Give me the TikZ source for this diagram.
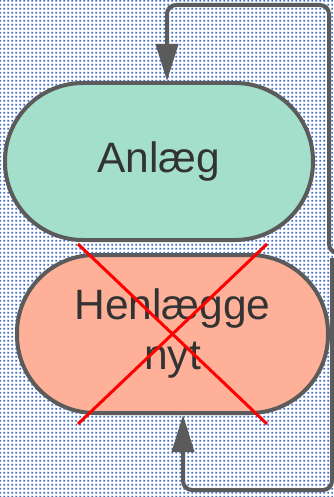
\documentclass[tikz,border=0pt]{standalone}
\usepackage{fontspec}
\setmainfont{Liberation Sans}
\usetikzlibrary{patterns.meta,arrows.meta}
\definecolor{dotblue}{HTML}{3F6CC6}
\definecolor{mint}{HTML}{A3DFCA}
\definecolor{salmon}{HTML}{FFB098}
\definecolor{edgegray}{HTML}{5B5B5B}
\definecolor{txt}{HTML}{333333}
\tikzdeclarepattern{name=bgdots, type=uncolored, bottom left={(0pt,0pt)}, top right={(4pt,4pt)}, tile size={(4pt,4pt)}, code={\fill (0.4pt,0.4pt) rectangle (2.6pt,2.6pt);}}
\tikzset{
  statebox/.style={draw=edgegray, line width=4pt, rounded corners=78pt, text=txt, font=\fontsize{42.5}{50}\selectfont, align=center, inner sep=0pt},
  flow/.style={draw=edgegray, line width=4pt, rounded corners=9pt, -{Triangle[length=37pt,width=22pt]}},
  cross/.style={draw=red, line width=3pt}
}
\begin{document}
\begin{tikzpicture}[x=1pt,y=-1pt]
\useasboundingbox (0,0) rectangle (333,497);
\fill[white] (0,0) rectangle (333,497);
\fill[pattern=bgdots, pattern color=dotblue] (0,0) rectangle (333,497);
\node[statebox, fill=mint, minimum width=308pt, minimum height=157pt] (anlaeg) at (159,161.5) {Anlæg};
\node[statebox, fill=salmon, minimum width=311pt, minimum height=158pt] (henl) at (172.5,334) {Henlægge\\nyt};
\coordinate (topin) at (167,83);
\coordinate (botin) at (183,413);
\coordinate (topstart) at (350,253);
\coordinate (botstart) at (332,258);
\draw[flow] (topstart) -- (329,253) -- (329,5) -- (167,5) -- (anlaeg.north -| topin);
\draw[flow] (botstart) -- (332,490) -- (183,490) -- (henl.south -| botin);
\coordinate (c1) at (78,244);
\coordinate (c2) at (267,424);
\coordinate (c3) at (267,244);
\coordinate (c4) at (78,424);
\draw[cross] (c1) -- (c2);
\draw[cross] (c3) -- (c4);
\end{tikzpicture}
\end{document}
